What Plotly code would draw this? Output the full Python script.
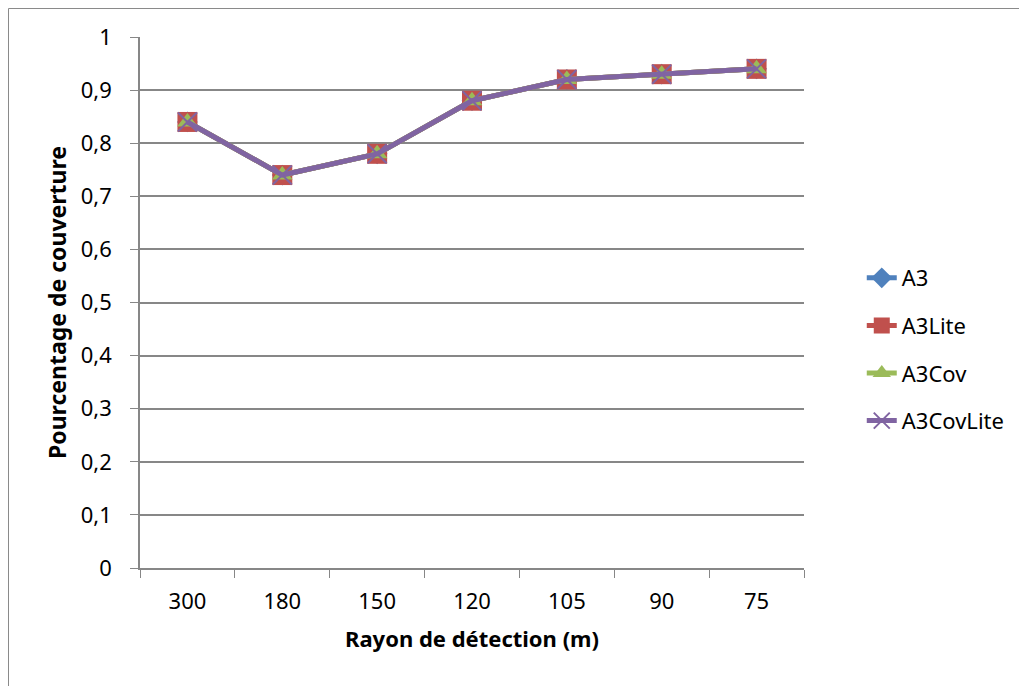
import plotly.graph_objects as go

RAYONS = ["300", "180", "150", "120", "105", "90", "75"]
A3 = [0.84, 0.74, 0.78, 0.88, 0.92, 0.93, 0.94]
A3_LITE = [0.84, 0.74, 0.78, 0.88, 0.92, 0.93, 0.94]
A3_COV = [0.84, 0.74, 0.78, 0.88, 0.92, 0.93, 0.94]
A3_COV_LITE = [0.84, 0.74, 0.78, 0.88, 0.92, 0.93, 0.94]

SERIES = [
    ("A3", A3, "#4F81BD", "diamond", 16),
    ("A3Lite", A3_LITE, "#C0504D", "square", 20),
    ("A3Cov", A3_COV, "#9BBB59", "triangle-up", 18),
    ("A3CovLite", A3_COV_LITE, "#8064A2", "x-thin", 19),
]

FONT = "Noto Sans"
FS = 22
GRID = "#878787"

# page puts the plot 8px in from the top-left corner, margins account for it
fig = go.Figure()
for i, (name, vals, color, symbol, size) in enumerate(SERIES):
    marker = dict(symbol=symbol, size=size, color=color)
    if symbol == "x-thin":
        marker["line"] = dict(color=color, width=2)
    fig.add_trace(go.Scatter(
        x=RAYONS, y=vals, name=name, mode="lines+markers",
        line=dict(color=color, width=5), marker=marker,
        legendgroup=f"g{i}",
    ))

fig.update_layout(
    width=1027, height=686,
    margin=dict(l=132, r=231, t=29, b=126),
    paper_bgcolor="white", plot_bgcolor="white",
    font=dict(family=FONT, size=FS, color="black"),
    separators=", ",
    showlegend=True,
    legend=dict(x=1.087, xanchor="left", y=0.4115, yanchor="middle",
                tracegroupgap=16, font=dict(size=FS), bgcolor="rgba(0,0,0,0)"),
    shapes=[dict(type="rect", xref="paper", yref="paper",
                 x0=(0.5 - 132) / 664, x1=1.458, y0=-0.2637, y1=1 + 28.5 / 531,
                 line=dict(color="#8a8a8a", width=1))],
)

fig.update_xaxes(
    type="category", range=[-0.5, 6.5], tickson="boundaries",
    ticks="outside", ticklen=8, tickcolor=GRID, ticklabelstandoff=13,
    showline=True, linecolor=GRID, linewidth=1.5,
    showgrid=False, tickfont=dict(size=FS),
    title=dict(text="<b>Rayon de détection (m)</b>", font=dict(size=FS), standoff=17),
)
fig.update_yaxes(
    range=[0, 1], dtick=0.1,
    ticks="outside", ticklen=8, tickcolor=GRID, ticklabelstandoff=14,
    showline=True, linecolor=GRID, linewidth=1.5,
    showgrid=True, gridcolor=GRID, gridwidth=1.5,
    zeroline=False, tickfont=dict(size=FS),
    title=dict(text="<b>Pourcentage de couverture</b>", font=dict(size=23), standoff=8),
)

fig.write_html("out.html")
